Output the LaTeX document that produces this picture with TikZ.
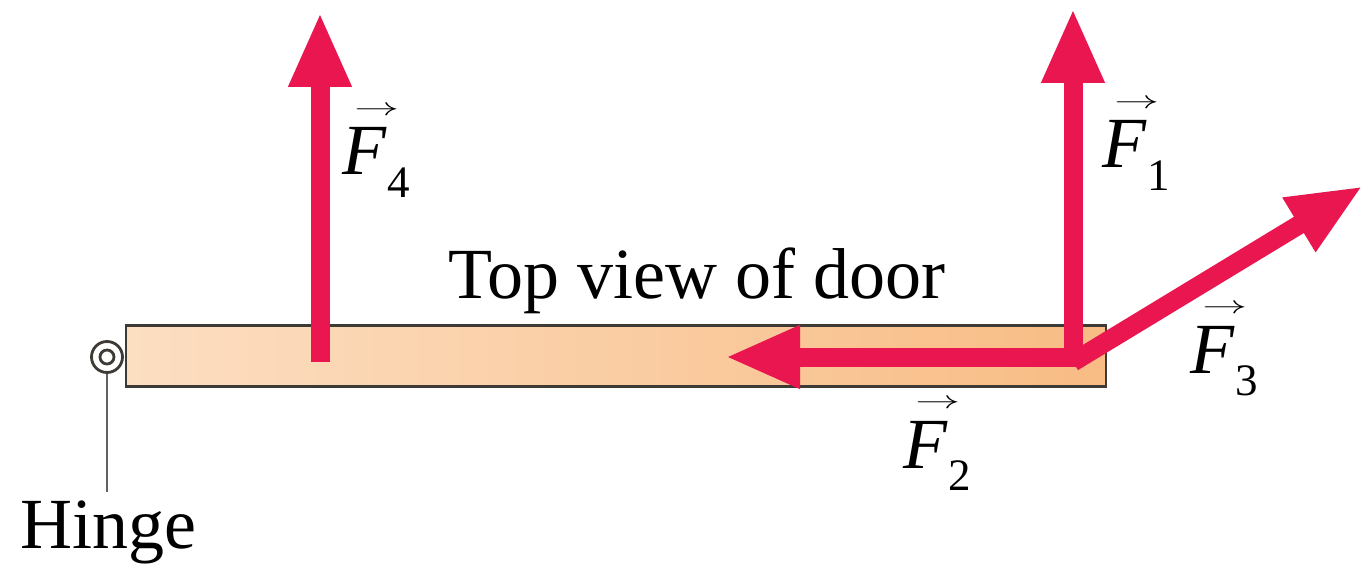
\documentclass[tikz,border=0pt]{standalone}
\usepackage{graphicx}
\usepackage{fontspec}
\setmainfont{LiberationSerif}[Extension=.ttf,UprightFont=*-Regular,ItalicFont=*-Italic,BoldFont=*-Bold,BoldItalicFont=*-BoldItalic]
\usetikzlibrary{arrows.meta}
\definecolor{forcered}{RGB}{234,22,80}
\definecolor{doorleft}{RGB}{252,222,194}
\definecolor{doorright}{RGB}{248,188,132}
\definecolor{edgegray}{RGB}{62,58,54}
\newcommand{\bigfont}{\fontsize{72}{80}\selectfont}
\newcommand{\vF}[1]{\rlap{\kern0.17em\raisebox{0.82em}{\fontsize{34}{34}\selectfont\scalebox{1.8}[1]{$\rightarrow$}}}\textit{F}\kern0.01em\raisebox{-0.31em}{\fontsize{45}{45}\selectfont #1}}
\begin{document}
\begin{tikzpicture}[x=1pt,y=-1pt,
  force/.style={draw=forcered,line width=19pt,-{Triangle[length=75pt,width=58pt]}},
  lbl/.style={inner sep=0pt,anchor=base west,font=\bigfont},
  doorbox/.style={draw=edgegray,line width=2.8pt,left color=doorleft,right color=doorright,minimum width=980pt,minimum height=61pt,inner sep=0pt},
  ring/.style={draw=edgegray,line width=2.8pt,fill=white}]
\useasboundingbox (0,0) rectangle (1365,564);
% door
\node[doorbox] (door) at (616,356) {};
% hinge
\node[ring,circle,minimum size=31pt,inner sep=0pt] (hinge) at (107,357) {};
\node[ring,circle,minimum size=14pt,inner sep=0pt] (hingein) at (107,357) {};
\coordinate (hingeend) at (107,492);
\draw[edgegray!80,line width=1.3pt] (hinge.south) -- (hingeend);
\node[inner sep=0pt,anchor=base,font=\bigfont] (hingelbl) at (108,548) {Hinge};
% title
\node[inner sep=0pt,anchor=base,font=\bigfont] (title) at (697,298) {Top view of door};
% force points
\coordinate (f4s) at (320,362);
\coordinate (f4e) at (320,12);
\coordinate (f1s) at (1073,366);
\coordinate (f1e) at (1073,8);
\coordinate (f2s) at (1082,357);
\coordinate (f2e) at (725,357);
\coordinate (f3s) at (1073,362);
\coordinate (f3e) at (1363,186);
\draw[force] (f4s) -- (f4e);
\draw[force] (f1s) -- (f1e);
\draw[force] (f2s) -- (f2e);
\draw[force] (f3s) -- (f3e);
% labels
\node[lbl] (l4) at (342,175) {\vF{4}};
\node[lbl] (l1) at (1102,168) {\vF{1}};
\node[lbl] (l3) at (1190,373) {\vF{3}};
\node[lbl] (l2) at (903,468) {\vF{2}};
\end{tikzpicture}
\end{document}
